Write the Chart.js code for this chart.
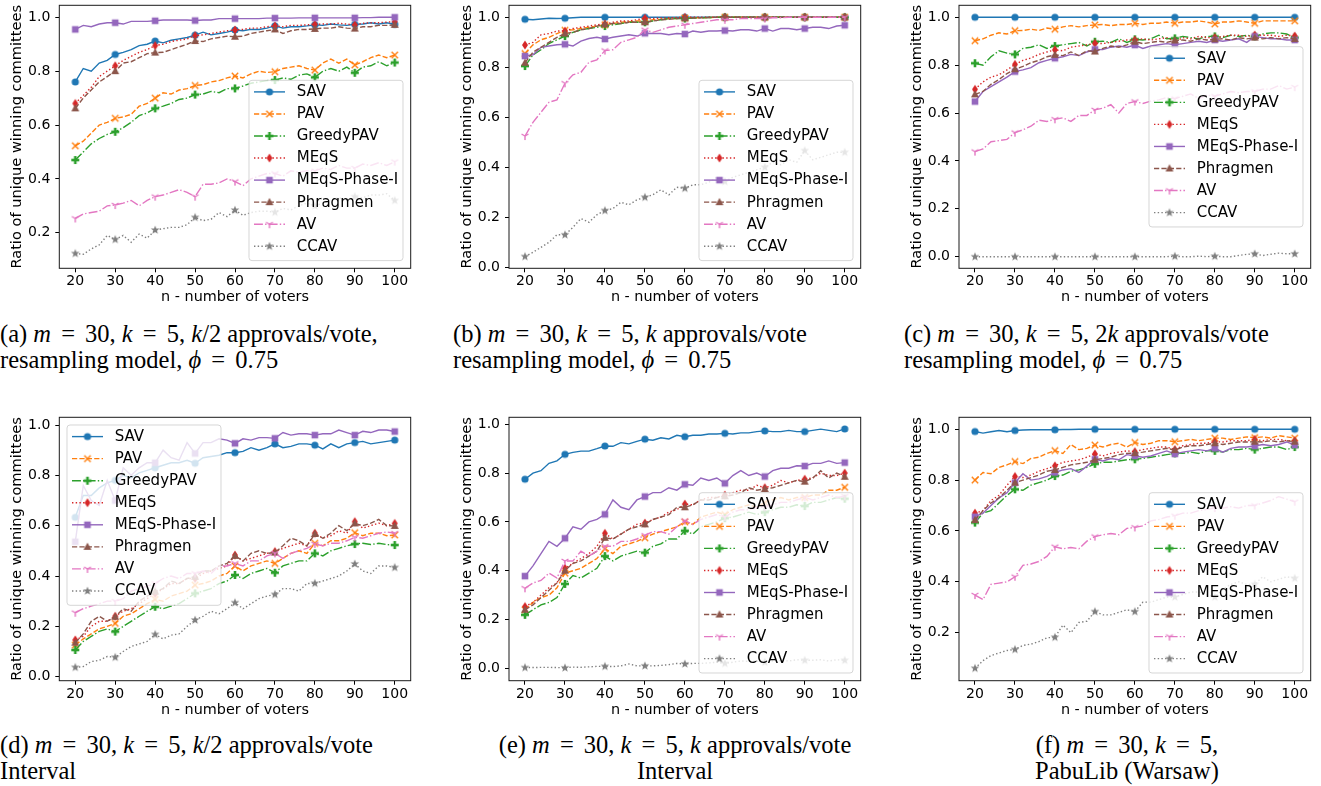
<!DOCTYPE html>
<html><head><meta charset="utf-8">
<script src="https://cdn.jsdelivr.net/npm/chart.js@4/dist/chart.umd.min.js"></script>
<style>
body{margin:0;background:#fff;width:1321px;height:786px;position:relative;overflow:hidden;}
canvas{position:absolute;}
.cap{position:absolute;font-family:"Liberation Serif","Times New Roman",serif;font-size:24.5px;line-height:26px;color:#000;white-space:nowrap;}
.cap.ctr{text-align:center;width:400px;}
.cap i{font-style:italic;}
.eq{margin:0 4px;}
</style></head><body>
<canvas id="pa" width="440" height="310" style="left:0;top:0"></canvas>
<canvas id="pb" width="440" height="310" style="left:440px;top:0"></canvas>
<canvas id="pc" width="441" height="310" style="left:880px;top:0"></canvas>
<canvas id="pd" width="440" height="320" style="left:0;top:400px"></canvas>
<canvas id="pe" width="440" height="320" style="left:440px;top:400px"></canvas>
<canvas id="pf" width="441" height="320" style="left:880px;top:400px"></canvas>

<div class="cap" style="left:0;top:321px">(a) <i>m</i> <span class="eq">=</span> 30, <i>k</i> <span class="eq">=</span> 5, <i>k</i>/2 approvals/vote,</div>
<div class="cap" style="left:0;top:347px">resampling model, <i>ϕ</i> <span class="eq">=</span> 0.75</div>
<div class="cap" style="left:453px;top:321px">(b) <i>m</i> <span class="eq">=</span> 30, <i>k</i> <span class="eq">=</span> 5, <i>k</i> approvals/vote</div>
<div class="cap" style="left:453px;top:347px">resampling model, <i>ϕ</i> <span class="eq">=</span> 0.75</div>
<div class="cap" style="left:904px;top:321px">(c) <i>m</i> <span class="eq">=</span> 30, <i>k</i> <span class="eq">=</span> 5, 2<i>k</i> approvals/vote</div>
<div class="cap" style="left:904px;top:347px">resampling model, <i>ϕ</i> <span class="eq">=</span> 0.75</div>
<div class="cap" style="left:0;top:732px">(d) <i>m</i> <span class="eq">=</span> 30, <i>k</i> <span class="eq">=</span> 5, <i>k</i>/2 approvals/vote</div>
<div class="cap" style="left:0;top:758px">Interval</div>
<div class="cap ctr" style="left:475px;top:732px">(e) <i>m</i> <span class="eq">=</span> 30, <i>k</i> <span class="eq">=</span> 5, <i>k</i> approvals/vote</div>
<div class="cap ctr" style="left:475px;top:758px">Interval</div>
<div class="cap ctr" style="left:927px;top:732px">(f) <i>m</i> <span class="eq">=</span> 30, <i>k</i> <span class="eq">=</span> 5,</div>
<div class="cap ctr" style="left:927px;top:758px">PabuLib (Warsaw)</div>

<script>
// ---- data ----
const nVoters = [20,22,24,26,28,30,32,34,36,38,40,42,44,46,48,50,52,54,56,58,60,62,64,66,68,70,72,74,76,78,80,82,84,86,88,90,92,94,96,98,100];
const xTicks = [20,30,40,50,60,70,80,90,100];
const yTicks = [0.0,0.2,0.4,0.6,0.8,1.0];
const methods = ['SAV','PAV','GreedyPAV','MEqS','MEqS-Phase-I','Phragmen','AV','CCAV'];

// (a) resampling, k/2 approvals
const a_SAV = [.76,.81,.80,.83,.84,.862,.87,.88,.895,.90, .912,.905,.915,.92,.925,.934,.945,.935,.94,.945, .953,.95,.955,.955,.96,.968,.96,.965,.965,.968, .972,.97,.975,.972,.97,.974,.975,.98,.975,.98, .974];
const a_PAV = [.523,.54,.57,.60,.61,.625,.63,.64,.67,.68, .70,.72,.715,.73,.735,.747,.75,.76,.765,.775, .782,.775,.79,.80,.795,.798,.81,.815,.82,.81, .804,.83,.845,.83,.845,.823,.835,.85,.86,.85, .86];
const a_GreedyPAV = [.47,.50,.53,.55,.565,.575,.59,.61,.635,.645, .662,.67,.68,.695,.70,.713,.715,.725,.72,.735, .736,.745,.755,.76,.765,.767,.775,.77,.785,.79, .777,.80,.81,.80,.815,.794,.815,.82,.835,.82, .832];
const a_MEqS = [.68,.71,.74,.78,.80,.82,.84,.855,.87,.88, .895,.90,.91,.915,.92,.932,.935,.94,.945,.95, .953,.955,.96,.96,.965,.968,.965,.97,.97,.972, .974,.975,.975,.978,.975,.972,.978,.98,.98,.982, .984];
const a_PhaseI = [.955,.97,.965,.975,.98,.98,.975,.985,.985,.985, .987,.99,.99,.99,.99,.988,.99,.99,.995,.995, .995,.995,.995,.995,.997,.997,.997,.997,.998,.998, .998,.998,.998,.998,.998,.998,.999,.999,1,1, 1];
const a_Phragmen = [.662,.70,.73,.76,.78,.80,.83,.835,.85,.865, .869,.87,.88,.89,.90,.912,.91,.92,.925,.93, .928,.93,.94,.945,.95,.955,.94,.95,.955,.955, .957,.96,.96,.965,.96,.958,.965,.965,.97,.97, .972];
const a_AV = [.253,.27,.275,.28,.30,.303,.31,.32,.30,.32, .334,.34,.35,.36,.35,.334,.38,.38,.385,.40, .39,.375,.40,.41,.42,.42,.41,.43,.425,.43, .43,.44,.435,.45,.44,.44,.455,.45,.46,.45, .464];
const a_CCAV = [.123,.12,.14,.155,.19,.175,.19,.165,.195,.18, .21,.215,.22,.22,.23,.257,.245,.25,.275,.26, .284,.265,.275,.28,.28,.276,.29,.285,.30,.31, .30,.31,.32,.33,.32,.334,.33,.34,.34,.345, .32];

// (b) resampling, k approvals
const b_SAV = [.992,.99,.993,.996,.995,.996,.998,1,1,1, 1,1,1,1,1,1,1,1,1,1, 1,1,1,1,1,1,1,1,1,1, 1,1,1,1,1,1,1,1,1,1, 1];
const b_PAV = [.855,.89,.91,.92,.935,.948,.95,.955,.96,.965, .97,.975,.98,.982,.985,.985,.99,.992,.995,.995, .997,.998,.998,.999,1,1,1,1,1,1, 1,1,1,1,1,1,1,1,1,1, 1];
const b_GreedyPAV = [.805,.85,.87,.895,.91,.925,.94,.95,.955,.96, .965,.97,.975,.98,.98,.98,.985,.99,.995,.995, .995,.997,.998,.999,1,1,1,1,1,1, 1,1,1,1,1,1,1,1,1,1, 1];
const b_MEqS = [.889,.90,.93,.935,.945,.945,.955,.96,.965,.97, .973,.98,.985,.985,.99,.996,.995,.997,.998,.999, 1,1,1,1,1,1,1,1,1,1, 1,1,1,1,1,1,1,1,1,1, 1];
const b_PhaseI = [.845,.85,.88,.885,.89,.892,.885,.905,.915,.92, .913,.92,.925,.93,.925,.936,.935,.935,.93,.935, .933,.945,.94,.945,.945,.947,.945,.95,.95,.945, .955,.945,.955,.955,.95,.955,.96,.96,.955,.965, .968];
const b_Phragmen = [.818,.86,.88,.90,.92,.935,.94,.95,.955,.965, .973,.975,.975,.98,.98,.98,.985,.99,.992,.995, .996,.997,.998,.999,1,1,1,1,1,1, 1,1,1,1,1,1,1,1,1,1, 1];
const b_AV = [.525,.58,.62,.66,.67,.736,.77,.78,.82,.83, .867,.87,.90,.91,.92,.95,.94,.95,.96,.965, .97,.975,.98,.985,.99,.99,.99,.995,.995,.995, .995,.998,.998,1,1,1,1,1,1,1, 1];
const b_CCAV = [.043,.06,.08,.10,.13,.13,.16,.195,.18,.21, .227,.235,.26,.25,.27,.28,.29,.31,.29,.32, .316,.33,.33,.34,.36,.343,.36,.37,.38,.39, .40,.42,.41,.43,.42,.467,.43,.44,.45,.46, .46];

// (c) resampling, 2k approvals
const c_SAV = [1,1,1,1,1,1,1,1,1,1, 1,1,1,1,1,1,1,1,1,1, 1,1,1,1,1,1,1,1,1,1, 1,1,1,1,1,1,1,1,1,1, 1];
const c_PAV = [.902,.91,.925,.935,.93,.944,.945,.95,.945,.955, .95,.96,.965,.96,.965,.968,.97,.965,.97,.97, .975,.97,.975,.975,.98,.975,.98,.98,.985,.98, .972,.98,.98,.985,.98,.975,.985,.985,.985,.985, .985];
const c_GreedyPAV = [.808,.80,.835,.86,.85,.845,.87,.875,.885,.87, .88,.885,.89,.895,.88,.898,.90,.895,.91,.895, .908,.905,.91,.925,.91,.912,.92,.915,.91,.92, .92,.915,.925,.92,.925,.92,.93,.935,.935,.93, .915];
const c_MEqS = [.699,.73,.75,.76,.78,.803,.82,.83,.845,.855, .864,.86,.875,.88,.885,.891,.89,.895,.90,.905, .905,.91,.905,.91,.915,.898,.915,.91,.92,.915, .915,.92,.925,.925,.92,.926,.925,.925,.92,.925, .922];
const c_PhaseI = [.648,.69,.71,.73,.75,.773,.78,.79,.81,.82, .829,.835,.845,.84,.855,.866,.865,.875,.88,.875, .884,.87,.88,.885,.89,.885,.89,.895,.90,.895, .905,.90,.905,.91,.895,.92,.915,.91,.91,.905, .905];
const c_Phragmen = [.678,.69,.72,.74,.765,.783,.795,.81,.82,.835, .843,.84,.855,.84,.86,.857,.87,.88,.875,.885, .898,.89,.895,.90,.895,.903,.905,.90,.91,.905, .908,.91,.905,.915,.91,.915,.91,.915,.91,.915, .909];
const c_AV = [.439,.45,.48,.485,.49,.518,.53,.545,.57,.565, .574,.58,.565,.59,.59,.613,.62,.635,.60,.64, .648,.64,.65,.655,.665,.66,.67,.68,.66,.675, .67,.68,.69,.685,.69,.69,.70,.70,.715,.70, .708];
const c_CCAV = [0,0,0,0,0,0,0,0,0,0, 0,0,0,0,0,0,0,0,0,0, 0,0,0,0,0,.002,0,0,.002,0, .002,0,0,.005,.01,.012,.005,.01,.015,.012, .012];

// (d) Interval, k/2 approvals
const d_SAV = [.633,.72,.72,.75,.77,.78,.80,.79,.81,.82, .83,.84,.85,.85,.86,.848,.87,.875,.88,.89, .89,.895,.91,.90,.91,.925,.91,.915,.925,.925, .92,.905,.925,.91,.925,.93,.935,.925,.93,.935, .94];
const d_PAV = [.126,.15,.17,.19,.20,.212,.24,.25,.27,.29, .307,.30,.32,.33,.34,.364,.37,.38,.40,.41, .44,.42,.44,.45,.46,.45,.47,.49,.50,.49, .53,.52,.54,.54,.55,.572,.56,.57,.57,.56, .563];
const d_GreedyPAV = [.106,.14,.16,.18,.19,.179,.20,.22,.24,.26, .278,.27,.28,.29,.31,.331,.34,.35,.37,.38, .404,.39,.41,.42,.43,.413,.44,.45,.46,.46, .49,.48,.50,.51,.52,.527,.53,.525,.53,.525, .523];
const d_MEqS = [.146,.16,.20,.22,.22,.24,.26,.27,.29,.31, .33,.35,.37,.37,.39,.39,.41,.42,.43,.44, .483,.46,.47,.48,.49,.497,.51,.52,.53,.52, .57,.55,.56,.58,.57,.616,.59,.60,.61,.60, .609];
const d_PhaseI = [.536,.76,.70,.68,.78,.70,.83,.80,.83,.85, .85,.90,.87,.86,.93,.887,.93,.93,.945,.94, .927,.945,.94,.95,.95,.947,.97,.96,.965,.965, .96,.965,.965,.98,.97,.96,.975,.97,.98,.98, .974];
const d_Phragmen = [.135,.17,.22,.24,.22,.238,.27,.26,.30,.32, .338,.35,.38,.37,.39,.397,.42,.42,.44,.45, .48,.46,.49,.50,.49,.493,.52,.55,.54,.52, .567,.55,.57,.60,.58,.609,.60,.61,.625,.60, .599];
const d_AV = [.254,.27,.28,.29,.30,.30,.31,.34,.35,.36, .37,.39,.40,.39,.41,.41,.42,.41,.44,.44, .45,.44,.46,.46,.48,.49,.47,.49,.50,.51, .527,.52,.53,.53,.54,.554,.55,.56,.57,.575, .57];
const d_CCAV = [.037,.04,.06,.065,.08,.077,.10,.12,.13,.14, .168,.15,.165,.17,.20,.225,.24,.26,.25,.27, .294,.27,.29,.31,.32,.327,.35,.35,.34,.37, .371,.38,.39,.40,.42,.448,.42,.41,.44,.44, .434];

// (e) Interval, k approvals
const e_SAV = [.775,.80,.81,.84,.85,.877,.885,.89,.89,.90, .911,.91,.925,.92,.93,.939,.935,.945,.94,.955, .949,.955,.955,.96,.96,.963,.96,.965,.965,.97, .973,.97,.97,.975,.97,.97,.975,.98,.975,.97, .981];
const e_PAV = [.24,.27,.29,.30,.33,.39,.40,.41,.43,.45, .49,.47,.50,.51,.52,.535,.55,.56,.57,.58, .60,.59,.62,.63,.64,.63,.65,.66,.67,.66, .68,.69,.70,.69,.70,.70,.71,.71,.73,.73, .742];
const e_GreedyPAV = [.219,.24,.26,.27,.29,.346,.38,.37,.39,.41, .46,.44,.46,.47,.48,.474,.50,.51,.53,.53, .564,.55,.58,.59,.60,.615,.62,.63,.64,.63, .64,.65,.66,.66,.67,.665,.68,.68,.69,.70, .695];
const e_MEqS = [.253,.27,.30,.33,.35,.41,.43,.45,.47,.50, .553,.53,.55,.57,.59,.595,.61,.62,.64,.65, .673,.67,.69,.70,.70,.71,.72,.73,.73,.75, .74,.75,.77,.76,.77,.775,.78,.80,.79,.79, .80];
const e_PhaseI = [.378,.42,.47,.52,.50,.533,.58,.57,.60,.61, .631,.69,.66,.65,.69,.704,.72,.72,.74,.73, .754,.75,.78,.77,.78,.758,.79,.81,.79,.80, .786,.81,.82,.82,.83,.829,.84,.84,.85,.84, .843];
const e_Phragmen = [.24,.26,.29,.32,.35,.40,.43,.44,.46,.48, .535,.53,.55,.57,.58,.59,.61,.62,.63,.66, .66,.67,.69,.69,.70,.705,.71,.72,.74,.73, .735,.74,.75,.76,.77,.765,.78,.81,.78,.80, .785];
const e_AV = [.328,.35,.36,.39,.37,.44,.44,.48,.46,.48, .50,.50,.52,.52,.53,.545,.56,.56,.55,.58, .605,.59,.61,.62,.63,.62,.64,.65,.65,.66, .66,.67,.68,.68,.69,.70,.69,.70,.71,.70, .705];
const e_CCAV = [.003,.003,.004,.004,.003,.002,.005,.004,.006,.008, .008,.007,.01,.018,.01,.01,.01,.012,.015,.02, .018,.02,.02,.022,.025,.02,.025,.03,.028,.03, .025,.03,.032,.03,.035,.033,.033,.035,.03,.035, .033];

// (f) PabuLib (Warsaw)
const f_SAV = [.991,.985,.99,.995,.99,.995,.997,.998,.998,.998, .998,.999,.999,1,1,1,1,1,1,1, 1,1,1,1,1,1,1,1,1,1, 1,1,1,1,1,1,1,1,1,1, 1];
const f_PAV = [.80,.83,.825,.85,.86,.873,.865,.885,.89,.905, .916,.905,.94,.92,.925,.938,.93,.94,.945,.93, .948,.94,.945,.955,.955,.951,.955,.96,.955,.96, .965,.965,.96,.965,.97,.967,.97,.965,.975,.97, .965];
const f_GreedyPAV = [.633,.67,.68,.71,.74,.764,.76,.78,.79,.80, .816,.82,.835,.84,.85,.864,.87,.87,.875,.88, .882,.885,.89,.895,.90,.905,.905,.91,.905,.915, .915,.91,.92,.92,.925,.92,.925,.93,.93,.92, .93];
const f_MEqS = [.67,.68,.72,.74,.78,.814,.81,.82,.835,.845, .856,.87,.875,.88,.89,.903,.895,.905,.91,.915, .912,.92,.925,.93,.93,.92,.935,.94,.945,.945, .951,.95,.955,.955,.955,.96,.955,.96,.96,.955, .955];
const f_PhaseI = [.656,.67,.70,.73,.75,.79,.825,.80,.805,.815, .83,.84,.845,.83,.855,.882,.875,.885,.88,.90, .895,.89,.895,.905,.915,.903,.91,.915,.92,.915, .925,.91,.925,.93,.93,.934,.94,.935,.94,.95, .938];
const f_Phragmen = [.643,.68,.71,.73,.76,.79,.80,.81,.82,.835, .84,.85,.86,.865,.87,.88,.885,.89,.90,.905, .906,.91,.915,.92,.925,.918,.93,.935,.935,.94, .945,.94,.945,.95,.95,.951,.95,.955,.95,.955, .951];
const f_AV = [.348,.33,.39,.395,.40,.42,.465,.47,.48,.50, .538,.53,.535,.53,.56,.578,.585,.59,.585,.61, .614,.62,.64,.645,.655,.66,.67,.67,.68,.685, .69,.69,.695,.69,.70,.70,.71,.72,.735,.725, .715];
const f_CCAV = [.06,.09,.11,.12,.13,.134,.15,.155,.165,.18, .182,.23,.20,.24,.245,.283,.27,.27,.28,.29, .283,.32,.32,.33,.34,.34,.35,.36,.36,.35, .34,.37,.39,.40,.39,.39,.42,.40,.41,.42, .414];

// ---- styles ----
const seriesStyle = {
  'SAV':          {color:'#1f77b4', dash:[],                marker:'o'},
  'PAV':          {color:'#ff7f0e', dash:[5.2,2.2],         marker:'x'},
  'GreedyPAV':    {color:'#2ca02c', dash:[8.9,2.2,1.4,2.2], marker:'P'},
  'MEqS':         {color:'#d62728', dash:[1.4,2.3],         marker:'d'},
  'MEqS-Phase-I': {color:'#9467bd', dash:[],                marker:'s'},
  'Phragmen':     {color:'#8c564b', dash:[5.2,2.2],         marker:'^'},
  'AV':           {color:'#e377c2', dash:[8.9,2.2,1.4,2.2], marker:'1'},
  'CCAV':         {color:'#7f7f7f', dash:[1.4,2.3],         marker:'*'}
};

function makeMarker(shape, color){
  const S = 14, c = document.createElement('canvas');
  c.width = S; c.height = S;
  const g = c.getContext('2d'), m = S/2;
  g.fillStyle = color; g.strokeStyle = color; g.lineWidth = 1.4;
  g.beginPath();
  if (shape === 'o') { g.arc(m, m, 3.6, 0, 2*Math.PI); g.fill(); }
  else if (shape === 's') { g.fillRect(m-3.3, m-3.3, 6.6, 6.6); }
  else if (shape === '^') { g.moveTo(m, m-4.2); g.lineTo(m+4, m+3.1); g.lineTo(m-4, m+3.1); g.closePath(); g.fill(); }
  else if (shape === 'd') { g.moveTo(m, m-4.5); g.lineTo(m+3, m); g.lineTo(m, m+4.5); g.lineTo(m-3, m); g.closePath(); g.fill(); }
  else if (shape === 'x') { g.moveTo(m-3.2, m-3.2); g.lineTo(m+3.2, m+3.2); g.moveTo(m+3.2, m-3.2); g.lineTo(m-3.2, m+3.2); g.stroke(); }
  else if (shape === 'P') { g.fillRect(m-4, m-1.3, 8, 2.6); g.fillRect(m-1.3, m-4, 2.6, 8); }
  else if (shape === '1') {
    const r = 4;
    g.moveTo(m, m); g.lineTo(m, m+r);
    g.moveTo(m, m); g.lineTo(m - r*0.866, m - r*0.5);
    g.moveTo(m, m); g.lineTo(m + r*0.866, m - r*0.5);
    g.stroke();
  }
  else if (shape === '*') {
    const ro = 4.6, ri = 1.9;
    for (let i = 0; i < 10; i++) {
      const r = i % 2 ? ri : ro, a = -Math.PI/2 + i*Math.PI/5;
      const px = m + r*Math.cos(a), py = m + r*Math.sin(a);
      if (i === 0) g.moveTo(px, py); else g.lineTo(px, py);
    }
    g.closePath(); g.fill();
  }
  return c;
}

const mplPlugin = {
  id: 'mplFrame',
  afterDatasetsDraw(chart, args, opts) {
    const ctx = chart.ctx, a = chart.chartArea;
    ctx.save();
    ctx.strokeStyle = '#1a1a1a'; ctx.lineWidth = 1; ctx.setLineDash([]);
    ctx.strokeRect(a.left, a.top, a.right - a.left, a.bottom - a.top);
    const W = 154, H = 180.3, rowH = 22.05, pad = 7.7;
    let bx, by;
    if (opts.loc === 'upper left') { bx = a.left + pad; by = a.top + pad; }
    else if (opts.loc === 'center right') { bx = a.right - pad - W; by = (a.top + a.bottom)/2 - H/2; }
    else { bx = a.right - pad - W; by = a.bottom - pad - H; }
    ctx.beginPath();
    if (ctx.roundRect) ctx.roundRect(bx, by, W, H, 3); else ctx.rect(bx, by, W, H);
    ctx.fillStyle = 'rgba(255,255,255,0.8)'; ctx.fill();
    ctx.strokeStyle = 'rgba(204,204,204,0.8)'; ctx.lineWidth = 1; ctx.stroke();
    chart.data.datasets.forEach((ds, i) => {
      const cy = by + 11.6 + i*rowH;
      ctx.beginPath();
      ctx.setLineDash(ds.borderDash); ctx.lineWidth = ds.borderWidth; ctx.strokeStyle = ds.borderColor;
      ctx.moveTo(bx + 5, cy); ctx.lineTo(bx + 36, cy); ctx.stroke();
      ctx.setLineDash([]);
      const img = ds.pointStyle;
      ctx.drawImage(img, bx + 20.5 - img.width/2, cy - img.height/2);
      ctx.fillStyle = '#000'; ctx.font = '15px "DejaVu Sans"'; ctx.textBaseline = 'middle'; ctx.textAlign = 'left';
      ctx.fillText(ds.label, bx + 47.7, cy + 0.5);
    });
    ctx.restore();
  }
};

const panels = [
  {id:'pa', series:[a_SAV,a_PAV,a_GreedyPAV,a_MEqS,a_PhaseI,a_Phragmen,a_AV,a_CCAV], w:440, h:310, L:59.3, R:410.7, T:5.3, B:268.3, yMin:0.068, yMax:1.0446, loc:'lower right'},
  {id:'pb', series:[b_SAV,b_PAV,b_GreedyPAV,b_MEqS,b_PhaseI,b_Phragmen,b_AV,b_CCAV], w:440, h:310, L:69, R:420.7, T:5.3, B:268.3, yMin:-0.004, yMax:1.048, loc:'lower right'},
  {id:'pc', series:[c_SAV,c_PAV,c_GreedyPAV,c_MEqS,c_PhaseI,c_Phragmen,c_AV,c_CCAV], w:441, h:310, L:79, R:430.7, T:5.3, B:268.3, yMin:-0.0485, yMax:1.05, loc:'center right'},
  {id:'pd', series:[d_SAV,d_PAV,d_GreedyPAV,d_MEqS,d_PhaseI,d_Phragmen,d_AV,d_CCAV], w:440, h:320, L:59.3, R:410.7, T:17.3, B:280.7, yMin:-0.016, yMax:1.0306, loc:'upper left'},
  {id:'pe', series:[e_SAV,e_PAV,e_GreedyPAV,e_MEqS,e_PhaseI,e_Phragmen,e_AV,e_CCAV], w:440, h:320, L:69, R:420.7, T:17.3, B:280.7, yMin:-0.0508, yMax:1.0287, loc:'lower right'},
  {id:'pf', series:[f_SAV,f_PAV,f_GreedyPAV,f_MEqS,f_PhaseI,f_Phragmen,f_AV,f_CCAV], w:441, h:320, L:79, R:430.7, T:17.3, B:280.7, yMin:0.0112, yMax:1.047, loc:'lower right'}
];

Chart.defaults.font.family = '"DejaVu Sans"';
Chart.defaults.color = '#000';

const markerCache = {};
methods.forEach(m => { const s = seriesStyle[m]; markerCache[m] = makeMarker(s.marker, s.color); });

panels.forEach(p => {
  const datasets = methods.map((m, i) => {
    const s = seriesStyle[m];
    return {
      label: m,
      data: nVoters.map((n, j) => ({x: n, y: p.series[i][j]})),
      borderColor: s.color, backgroundColor: s.color,
      borderWidth: 1.4, borderDash: s.dash,
      pointStyle: markerCache[m],
      pointRadius: ctx => (ctx.raw && ctx.raw.x % 10 === 0) ? 3 : 0,
      pointHoverRadius: 0,
      tension: 0, fill: false, order: -i
    };
  });
  new Chart(document.getElementById(p.id), {
    type: 'line',
    data: {datasets},
    options: {
      responsive: false, animation: false, events: [],
      layout: {padding: {left: 0, top: p.T, right: p.w - p.R, bottom: 0}},
      plugins: {legend: {display: false}, tooltip: {enabled: false}, mplFrame: {loc: p.loc}},
      scales: {
        x: {
          type: 'linear', min: 16, max: 104,
          afterBuildTicks: ax => { ax.ticks = xTicks.map(v => ({value: v})); },
          afterFit: s => { s.height = p.h - p.B; s.paddingLeft = 0; s.paddingRight = 0; },
          grid: {display: true, drawOnChartArea: false, drawTicks: true, tickLength: 4, color: '#000', lineWidth: 1},
          border: {display: false},
          ticks: {font: {size: 14}, color: '#000', padding: 1, maxRotation: 0, autoSkip: false, callback: v => String(v)},
          title: {display: true, text: 'n - number of voters', font: {size: 14.4}, color: '#000', padding: {top: 0, bottom: p.h - p.B - 38}}
        },
        y: {
          type: 'linear', min: p.yMin, max: p.yMax,
          afterBuildTicks: ax => { ax.ticks = yTicks.filter(v => v >= ax.min - 1e-9 && v <= ax.max + 1e-9).map(v => ({value: v})); },
          afterFit: s => { s.width = p.L; s.paddingTop = 0; s.paddingBottom = 0; },
          grid: {display: true, drawOnChartArea: false, drawTicks: true, tickLength: 4, color: '#000', lineWidth: 1},
          border: {display: false},
          ticks: {font: {size: 14}, color: '#000', padding: 5, callback: v => Number(v).toFixed(1)},
          title: {display: true, text: 'Ratio of unique winning committees', font: {size: 14.6}, color: '#000', padding: {top: p.L - 42 - 8.8, bottom: 0}}
        }
      }
    },
    plugins: [mplPlugin]
  });
});
</script>
</body></html>
